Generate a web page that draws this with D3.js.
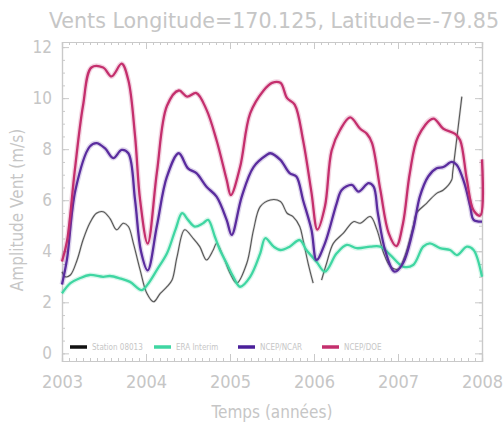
<!DOCTYPE html>
<html><head><meta charset="utf-8">
<script src="https://cdn.jsdelivr.net/npm/d3@7"></script>
<style>html,body{margin:0;padding:0;background:#fff;}svg{display:block;}</style>
</head><body>
<script>
// ---- data ----
const seriesNames = ["Station 08013", "ERA Interim", "NCEP/NCAR", "NCEP/DOE"];
const xTickYears = [2003, 2004, 2005, 2006, 2007, 2008];
const yTickValues = [0, 2, 4, 6, 8, 10, 12];

const stationT = [2003.00,2003.04,2003.10,2003.18,2003.25,2003.33,2003.41,2003.49,2003.57,2003.65,2003.73,2003.79,2003.85,2003.93,2004.01,2004.09,2004.17,2004.25,2004.31,2004.37,2004.46,2004.56,2004.64,2004.72,2004.80,2004.84,2004.92,2005.00,2005.08,2005.20,2005.28,2005.36,2005.48,2005.60,2005.68,2005.75,2005.83,2005.87,2005.93,2005.99,2006.04,2006.09,2006.15,2006.23,2006.35,2006.47,2006.55,2006.67,2006.75,2006.83,2006.91,2007.00,2007.08,2007.18,2007.22,2007.34,2007.46,2007.54,2007.64,2007.65,2007.76];
const stationV = [3.2,3.0,3.07,3.66,4.44,5.1,5.49,5.55,5.29,4.84,5.1,4.97,4.31,3.27,2.35,2.02,2.35,2.61,2.87,3.79,4.84,4.51,4.18,3.66,4.05,4.31,3.79,3.14,2.75,3.53,4.84,5.75,6.01,5.95,5.49,5.36,4.97,4.44,3.53,2.75,null,2.87,3.53,4.31,4.71,5.16,5.1,5.36,4.84,3.92,3.4,3.3,3.8,4.97,5.49,5.88,6.27,6.4,6.8,7.06,10.06];

const eraT = [2003.00,2003.10,2003.21,2003.33,2003.49,2003.57,2003.69,2003.81,2003.95,2004.03,2004.13,2004.25,2004.35,2004.43,2004.50,2004.58,2004.68,2004.74,2004.82,2004.88,2004.96,2005.04,2005.12,2005.24,2005.36,2005.42,2005.52,2005.60,2005.71,2005.83,2005.91,2006.03,2006.13,2006.27,2006.39,2006.51,2006.67,2006.79,2006.91,2007.06,2007.18,2007.30,2007.38,2007.50,2007.62,2007.70,2007.82,2007.90,2008.00];
const eraV = [2.35,2.75,2.94,3.07,3.0,3.03,2.94,2.8,2.48,2.75,3.27,3.92,4.84,5.49,5.23,4.97,5.1,5.23,4.57,4.05,3.53,3.0,2.61,3.0,3.92,4.51,4.18,4.05,4.18,4.44,4.05,3.59,3.2,3.92,4.25,4.12,4.18,4.18,3.85,3.4,3.46,4.18,4.31,4.12,4.05,3.85,4.18,4.05,3.0];

const ncarT = [2003.00,2003.06,2003.16,2003.33,2003.41,2003.51,2003.61,2003.71,2003.79,2003.87,2003.94,2004.02,2004.13,2004.25,2004.39,2004.50,2004.60,2004.72,2004.84,2004.96,2005.02,2005.14,2005.28,2005.44,2005.48,2005.60,2005.71,2005.79,2005.87,2005.97,2006.03,2006.13,2006.27,2006.33,2006.45,2006.53,2006.65,2006.71,2006.76,2006.85,2006.96,2007.06,2007.18,2007.26,2007.36,2007.46,2007.54,2007.64,2007.70,2007.79,2007.86,2007.90,2008.00];
const ncarV = [2.7,3.7,6.4,8.1,8.24,8.04,7.65,7.97,7.84,6.0,4.0,3.25,5.0,6.93,7.84,7.25,7.06,6.53,6.14,5.23,4.64,6.14,7.3,7.78,7.84,7.58,7.06,6.93,6.0,4.84,3.66,4.31,5.88,6.4,6.6,6.34,6.67,6.53,5.5,4.0,3.2,3.53,4.84,6.14,6.93,7.25,7.3,7.5,7.38,6.67,5.75,5.23,5.16];

const doeT = [2003.00,2003.06,2003.15,2003.25,2003.35,2003.49,2003.59,2003.71,2003.79,2003.87,2003.93,2004.02,2004.13,2004.25,2004.39,2004.49,2004.60,2004.72,2004.84,2004.96,2005.01,2005.12,2005.24,2005.40,2005.50,2005.60,2005.68,2005.77,2005.87,2005.97,2006.04,2006.13,2006.21,2006.31,2006.43,2006.55,2006.63,2006.69,2006.79,2006.89,2006.98,2007.06,2007.14,2007.24,2007.42,2007.54,2007.68,2007.74,2007.82,2007.90,2007.98,2008.00];
const doeV = [3.6,4.4,7.1,9.7,11.2,11.2,10.85,11.35,10.7,8.5,6.0,4.3,7.1,9.7,10.3,10.06,10.2,9.55,8.35,6.8,6.2,7.3,9.4,10.3,10.6,10.6,10.0,9.75,8.35,6.3,4.85,5.75,7.95,8.75,9.25,8.8,8.6,8.25,6.4,4.7,4.2,5.1,7.05,8.5,9.2,8.8,8.6,8.35,6.8,5.6,5.4,7.6];

// ---- layout ----
const W = 503, H = 428;
const mLeft = 62, mRight = 482, mTop = 42, mBottom = 361;
const axisColor = "#c9c9c9", textColor = "#c6c6c6";
const FONT = "DejaVu Sans Condensed, DejaVu Sans";
const colors = ["#555555", "#3fd6a2", "#5a2c9e", "#c42f6d"];

const svg = d3.select("body").append("svg").attr("width", W).attr("height", H);
const x = d3.scaleLinear().domain([2003, 2008]).range([mLeft, mRight]);
const y = d3.scaleLinear().domain([-0.3, 12.2]).range([mBottom, mTop]);

const g = svg.append("g");
const fmt = d3.format("d");
const minorX = d3.range(2003, 2008.001, 1/12);
const minorY = d3.range(0, 12.01, 0.5);

g.append("g").attr("transform", `translate(0,${mBottom})`)
  .call(d3.axisBottom(x).tickValues(minorX).tickSize(-3).tickFormat(""));
g.append("g").attr("transform", `translate(0,${mBottom})`)
  .call(d3.axisBottom(x).tickValues(xTickYears).tickSize(-7).tickPadding(14).tickFormat(fmt))
  .call(s => s.selectAll("text").attr("font-size", 18).attr("font-family", FONT).attr("fill", textColor));
g.append("g").attr("transform", `translate(0,${mTop})`)
  .call(d3.axisTop(x).tickValues(minorX).tickSize(-3).tickFormat(""));
g.append("g").attr("transform", `translate(0,${mTop})`)
  .call(d3.axisTop(x).tickValues(xTickYears).tickSize(-7).tickFormat(""));
g.append("g").attr("transform", `translate(${mLeft},0)`)
  .call(d3.axisLeft(y).tickValues(minorY).tickSize(-3).tickFormat(""));
g.append("g").attr("transform", `translate(${mLeft},0)`)
  .call(d3.axisLeft(y).tickValues(yTickValues).tickSize(-7).tickPadding(10).tickFormat(fmt))
  .call(s => s.selectAll("text").attr("font-size", 17).attr("font-family", FONT).attr("fill", textColor));
g.append("g").attr("transform", `translate(${mRight},0)`)
  .call(d3.axisRight(y).tickValues(minorY).tickSize(-3).tickFormat(""));
g.append("g").attr("transform", `translate(${mRight},0)`)
  .call(d3.axisRight(y).tickValues(yTickValues).tickSize(-7).tickFormat(""));

g.selectAll(".domain").attr("stroke", axisColor).attr("stroke-width", 1.2);
g.selectAll(".tick line").attr("stroke", axisColor);

const series = [
  {t: stationT, v: stationV, w: 1.1, halo: 2.5},
  {t: eraT, v: eraV, w: 2.3, halo: 5},
  {t: ncarT, v: ncarV, w: 2.3, halo: 5},
  {t: doeT, v: doeV, w: 2.3, halo: 5}
];
const line = d3.line().defined(d => d[1] !== null)
  .x(d => x(d[0])).y(d => y(d[1])).curve(d3.curveCatmullRom.alpha(0.5));
const plot = svg.append("g");
series.forEach((s, i) => {
  const pts = s.t.map((t, k) => [t, s.v[k]]);
  plot.append("path").attr("d", line(pts)).attr("fill", "none")
    .attr("stroke", colors[i]).attr("stroke-opacity", 0.2).attr("stroke-width", s.halo)
    .attr("stroke-linejoin", "round");
  plot.append("path").attr("d", line(pts)).attr("fill", "none")
    .attr("stroke", colors[i]).attr("stroke-width", s.w).attr("stroke-linejoin", "round");
});

const legColors = ["#111111", "#3fd6a2", "#4a1f9a", "#c42f6d"];
const legX = [70, 154, 238, 322];
const legY = 347;
seriesNames.forEach((n, i) => {
  svg.append("line").attr("x1", legX[i]).attr("x2", legX[i] + 17)
    .attr("y1", legY).attr("y2", legY).attr("stroke", legColors[i]).attr("stroke-width", 3.5);
  svg.append("text").attr("x", legX[i] + 22).attr("y", legY + 2.5).text(n)
    .attr("font-size", 8).attr("font-family", FONT).attr("fill", textColor);
});

svg.append("text").attr("x", 274).attr("y", 28).attr("text-anchor", "middle")
  .attr("font-size", 21).attr("font-family", FONT).attr("fill", textColor)
  .attr("textLength", 450).attr("lengthAdjust", "spacingAndGlyphs")
  .text("Vents Longitude=170.125, Latitude=-79.85");
svg.append("text").attr("x", 272).attr("y", 418).attr("text-anchor", "middle")
  .attr("font-size", 17).attr("font-family", FONT).attr("fill", textColor)
  .text("Temps (années)");
svg.append("text").attr("transform", "translate(23,210) rotate(-90)").attr("text-anchor", "middle")
  .attr("font-size", 17).attr("font-family", FONT).attr("fill", textColor)
  .text("Amplitude Vent (m/s)");
</script>
</body></html>
